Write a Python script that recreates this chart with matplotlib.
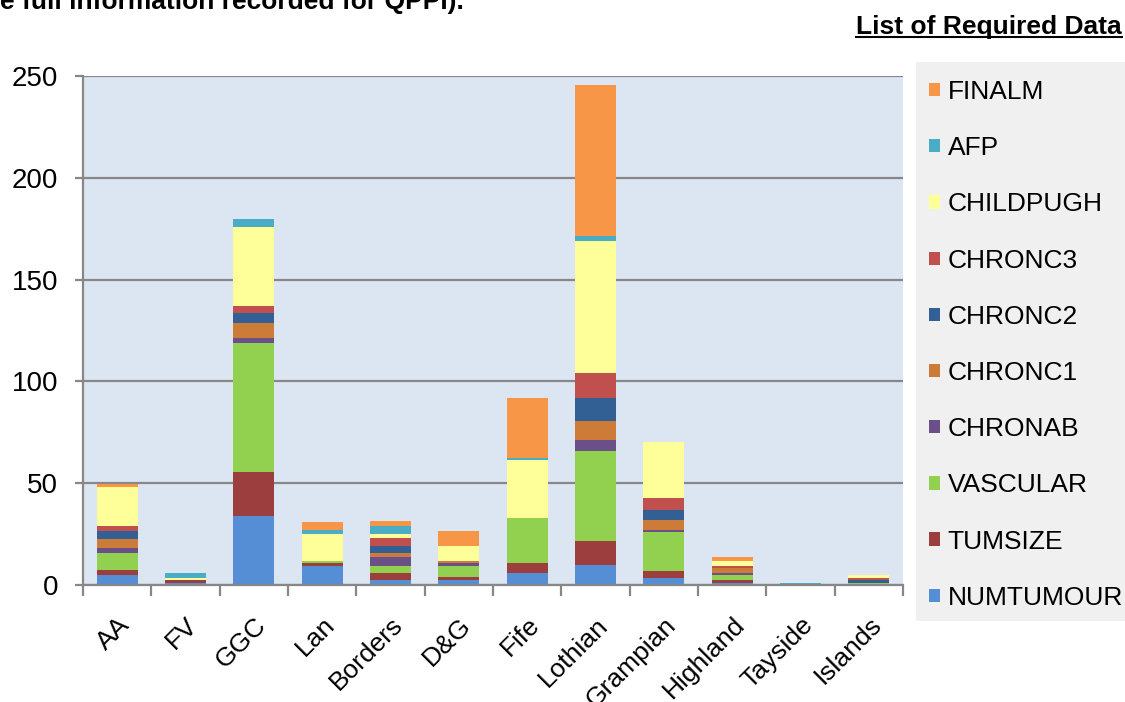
import numpy as np
import matplotlib.pyplot as plt
from matplotlib.patches import Rectangle
from matplotlib.lines import Line2D

plt.rcParams['font.family'] = ['Liberation Sans', 'DejaVu Sans']

# Health boards
boards = ["AA", "FV", "GGC", "Lan", "Borders", "D&G", "Fife", "Lothian",
          "Grampian", "Highland", "Tayside", "Islands"]

# Missing data counts per item (bottom to top of each stack)
numtumour = [5, 1, 34, 9.5, 2.5, 2.5, 6, 10, 3.5, 1, 0, 0]
tumsize   = [2.5, 1.5, 21.5, 1.5, 3.5, 1.5, 5, 11.5, 3.5, 1.5, 0, 0]
vascular  = [8, 0, 63.5, 1, 3.5, 5.5, 22, 44.5, 19, 2.5, 0, 1]
chronab   = [2.5, 0, 2.5, 0, 4, 1.5, 0, 5, 1, 1, 0, 0]
chronc1   = [4.5, 0, 7, 0, 2, 1, 0, 9.5, 5, 2.5, 0, 0]
chronc2   = [4, 0, 5, 0, 3.5, 0, 0, 11.5, 5, 0, 0, 1.5]
chronc3   = [2.5, 0, 3.5, 0, 4, 0, 0, 12, 5.5, 1, 0, 1]
childpugh = [19, 1, 39, 13, 2, 7, 28.5, 65, 27.5, 2.5, 0, 1.5]
afp       = [0, 2.5, 4, 2, 4, 0, 1, 2.5, 0, 0, 0.8, 0]
finalm    = [1.5, 0, 0, 4, 2.5, 7.5, 29.5, 74, 0, 1.5, 0, 0]

series = [
    ("NUMTUMOUR", numtumour, "#558ed5"),
    ("TUMSIZE", tumsize, "#9b3e3d"),
    ("VASCULAR", vascular, "#92d050"),
    ("CHRONAB", chronab, "#6a4f88"),
    ("CHRONC1", chronc1, "#cc7b38"),
    ("CHRONC2", chronc2, "#336094"),
    ("CHRONC3", chronc3, "#c0504d"),
    ("CHILDPUGH", childpugh, "#ffff99"),
    ("AFP", afp, "#4bacc6"),
    ("FINALM", finalm, "#f79646"),
]

fig = plt.figure(figsize=(11.25, 7.02), dpi=100)
ax = fig.add_axes([0.0738, 0.1667, 0.729, 0.725])
ax.set_facecolor("#dce6f2")

x = np.arange(len(boards))
bottom = np.zeros(len(boards))
handles = []
for name, vals, col in series:
    vals = np.array(vals, dtype=float)
    b = ax.bar(x, vals, 0.6, bottom=bottom, color=col, label=name)
    handles.append(b)
    bottom += vals

grey = "#878787"
ax.set_xlim(-0.5, len(boards) - 0.5)
ax.set_ylim(0, 250)
ax.set_yticks(np.arange(0, 251, 50))
ax.yaxis.grid(True, color=grey, linewidth=1.6)
ax.set_axisbelow(True)

for s in ["top", "right"]:
    ax.spines[s].set_visible(False)
for s in ["left", "bottom"]:
    ax.spines[s].set_color(grey)
    ax.spines[s].set_linewidth(1.6)

ax.tick_params(axis="y", direction="out", length=6, width=1.6, color=grey,
               labelsize=20, pad=12)
ax.set_xticks(x)
ax.set_xticklabels(boards, rotation=45, ha="right", va="top",
                   rotation_mode="anchor", fontsize=19)
ax.tick_params(axis="x", which="major", length=0, pad=20)
ax.set_xticks(np.arange(-0.5, len(boards), 1), minor=True)
ax.tick_params(axis="x", which="minor", direction="out", length=8,
               width=1.6, color=grey)

# legend panel
fig.patches.append(Rectangle((0.814, 0.115), 0.19, 0.796, transform=fig.transFigure,
                             facecolor="#f0f0f0", edgecolor="none", zorder=0))
leg = fig.legend(handles[::-1], [h.get_label() for h in handles[::-1]],
                 loc="upper left", bbox_to_anchor=(0.826, 0.886),
                 frameon=False, fontsize=19, labelspacing=1.22,
                 handlelength=0.4, handleheight=0.4, handletextpad=0.3,
                 borderpad=0, borderaxespad=0)

# header texts
fig.text(0.0, 0.987, "e full information recorded for QPPI).", fontsize=19,
         fontweight="bold", va="baseline", ha="left")
t = fig.text(0.997, 0.962, "List of Required Data", fontsize=19,
             fontweight="bold", va="center", ha="right")
fig.canvas.draw()
bb = t.get_window_extent().transformed(fig.transFigure.inverted())
fig.add_artist(Line2D([bb.x0, bb.x1], [bb.y0 + 0.002, bb.y0 + 0.002],
                      transform=fig.transFigure, color="black", linewidth=1.5))

fig.savefig("out.png", dpi=100)
